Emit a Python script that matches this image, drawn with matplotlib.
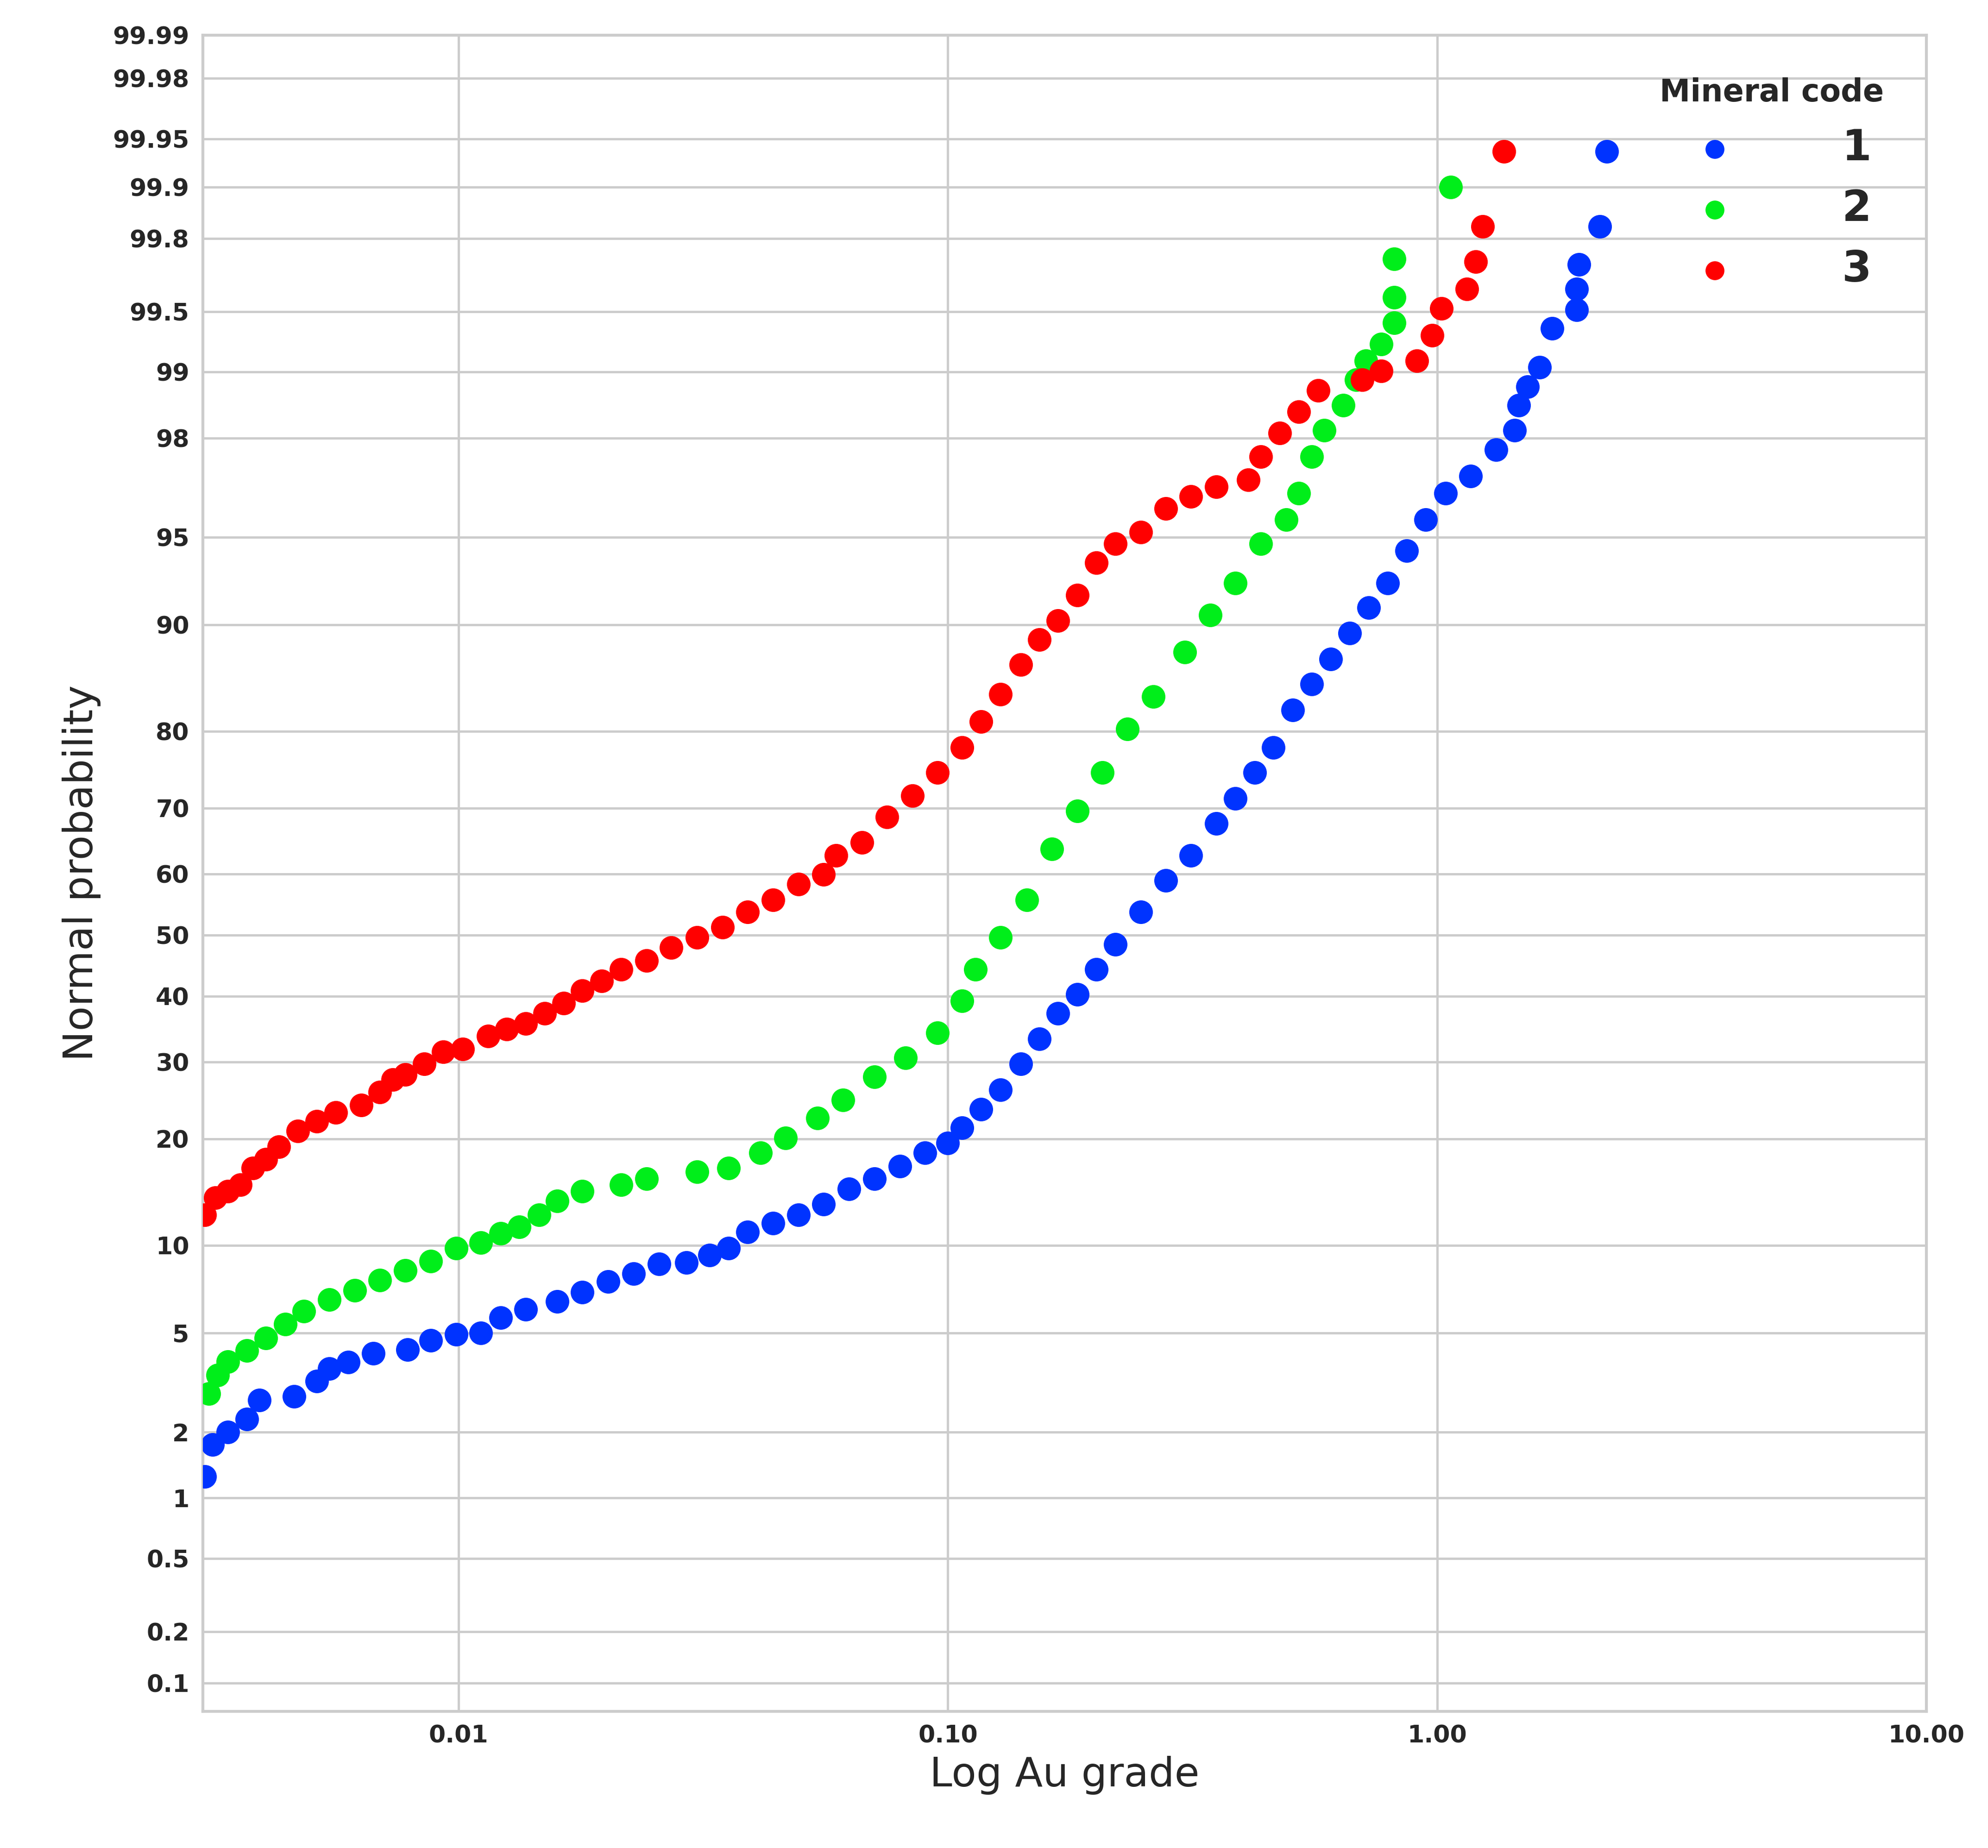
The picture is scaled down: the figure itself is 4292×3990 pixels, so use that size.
import matplotlib
matplotlib.use("Agg")
import matplotlib.pyplot as plt
import seaborn as sns
from statistics import NormalDist

sns.set_style("whitegrid")
plt.rcParams['font.family'] = ['DejaVu Sans']

# Au grade / cumulative probability (%) per mineral code
au_1 = [.00303, .00314, .00338, .00369, .00392, .00461, .00513, .00544, .00595, .0067,
        .00787, .00877, .0099, .0111, .0122, .0137, .0159, .0179, .0202, .0228,
        .0257, .0292, .0326, .0356, .039, .0439, .0495, .0557, .0628, .0708,
        .0798, .0898, .1, .107, .117, .128, .141, .154, .168, .184,
        .201, .220, .248, .279, .314, .354, .387, .424, .463, .507,
        .554, .606, .663, .725, .793, .866, .948, 1.04, 1.17, 1.32,
        1.44, 1.47, 1.53, 1.62, 1.72, 1.93, 1.93, 1.95, 2.15, 2.22]
prob_1 = [1.26, 1.76, 2.0, 2.27, 2.73, 2.83, 3.26, 3.66, 3.88, 4.2,
          4.34, 4.7, 4.95, 5.0, 5.7, 6.1, 6.5, 7.0, 7.6, 8.1,
          8.7, 8.8, 9.3, 9.8, 11.0, 11.7, 12.4, 13.3, 14.7, 15.7,
          17.0, 18.4, 19.5, 21.3, 23.6, 26.1, 29.7, 33.4, 37.3, 40.3,
          44.4, 48.5, 53.8, 58.9, 62.9, 67.8, 71.4, 74.9, 78.1, 82.4,
          85.0, 87.3, 89.4, 91.2, 92.7, 94.4, 95.7, 96.6, 97.1, 97.76,
          98.15, 98.57, 98.83, 99.05, 99.39, 99.51, 99.62, 99.72, 99.83, 99.94]

au_2 = [.00309, .00322, .00338, .00369, .00404, .00442, .00483, .00544, .00613, .0069,
        .00778, .00877, .0099, .0111, .0122, .0133, .0146, .0159, .0179, .0215,
        .0242, .0307, .0356, .0414, .0466, .0541, .061, .0708, .082, .0953,
        .107, .114, .128, .145, .163, .184, .207, .233, .263, .305,
        .344, .387, .436, .492, .522, .554, .588, .643, .683, .716,
        .769, .817, .817, .817, 1.067]
prob_2 = [2.9, 3.45, 3.9, 4.3, 4.8, 5.4, 6.0, 6.6, 7.1, 7.7,
          8.3, 8.9, 9.8, 10.2, 10.9, 11.4, 12.4, 13.6, 14.5, 15.1,
          15.7, 16.4, 16.8, 18.4, 20.1, 22.5, 24.8, 27.9, 30.6, 34.3,
          39.3, 44.4, 49.6, 55.8, 63.9, 69.6, 74.9, 80.3, 83.8, 87.9,
          90.7, 92.7, 94.7, 95.7, 96.6, 97.6, 98.15, 98.57, 98.91, 99.12,
          99.27, 99.43, 99.58, 99.74, 99.90]

au_3 = [.00303, .00318, .00338, .00358, .0038, .00404, .00429, .00469, .00513, .00561,
        .00632, .0069, .00733, .00778, .00851, .00931, .0102, .0115, .01254, .0137,
        .015, .0164, .0179, .0196, .0215, .0242, .0272, .0307, .0346, .039,
        .0439, .0495, .0557, .0591, .0667, .0751, .0846, .0953, .107, .117,
        .128, .141, .154, .168, .184, .201, .220, .248, .279, .314,
        .354, .411, .436, .477, .522, .571, .703, .769, .909, .977,
        1.02, 1.15, 1.20, 1.24, 1.37]
prob_3 = [12.4, 13.9, 14.5, 15.1, 16.8, 17.7, 19.1, 20.9, 22.1, 23.2,
          24.1, 25.8, 27.5, 28.2, 29.7, 31.5, 31.9, 33.8, 34.9, 35.7,
          37.3, 38.9, 40.9, 42.5, 44.4, 45.8, 47.9, 49.6, 51.3, 53.8,
          55.8, 58.3, 59.9, 62.9, 64.9, 68.7, 71.8, 74.9, 78.1, 81.1,
          84.0, 86.8, 88.9, 90.3, 92.0, 93.8, 94.7, 95.2, 96.1, 96.5,
          96.8, 97.0, 97.6, 98.1, 98.47, 98.78, 98.91, 99.01, 99.12, 99.34,
          99.52, 99.62, 99.73, 99.83, 99.94]

codes = ["1", "2", "3"]
colors = ["#0033ff", "#00ee1a", "#ff0000"]
prob_ticks = [0.1, 0.2, 0.5, 1, 2, 5, 10, 20, 30, 40, 50, 60, 70, 80, 90,
              95, 98, 99, 99.5, 99.8, 99.9, 99.95, 99.98, 99.99]
tick_labels = ["0.1", "0.2", "0.5", "1", "2", "5", "10", "20", "30", "40", "50", "60",
               "70", "80", "90", "95", "98", "99", "99.5", "99.8", "99.9", "99.95",
               "99.98", "99.99"]

nd = NormalDist()


def z(p_list):
    return [nd.inv_cdf(p / 100.0) for p in p_list]


fig = plt.figure(figsize=(4292 / 300, 3990 / 300), dpi=300)
ax = fig.add_axes([0.102, 0.074, 0.867, 0.907])

for code, col, xs, ps in zip(codes, colors, [au_1, au_2, au_3], [prob_1, prob_2, prob_3]):
    ax.scatter(xs, z(ps), s=150, color=col, label=code, zorder=3, linewidths=0)

ax.set_xscale("log")
ax.set_xlim(0.003, 10)
ax.set_xticks([0.01, 0.1, 1, 10])
ax.set_xticklabels(["0.01", "0.10", "1.00", "10.00"])
ax.minorticks_off()
ax.set_yticks(z(prob_ticks))
ax.set_yticklabels(tick_labels)
ax.set_ylim(nd.inv_cdf(0.00067), nd.inv_cdf(0.9999))
for lab in ax.get_xticklabels() + ax.get_yticklabels():
    lab.set_fontweight("bold")
    lab.set_fontsize(12.5)
ax.set_xlabel("Log Au grade", fontsize=21)
ax.set_ylabel("Normal probability", fontsize=21, labelpad=6)
ax.grid(color="#cccccc", linewidth=1.2)
for sp in ax.spines.values():
    sp.set_color("#cccccc")
    sp.set_linewidth(1.5)

leg = ax.legend(title="Mineral code", loc="upper right", frameon=False,
                prop={"weight": "bold", "size": 22}, markerscale=0.8,
                handletextpad=2.0, borderaxespad=0.6, labelspacing=0.45)
leg.get_title().set_fontweight("bold")
leg.get_title().set_fontsize(16)

fig.savefig("out.png", dpi=300)
